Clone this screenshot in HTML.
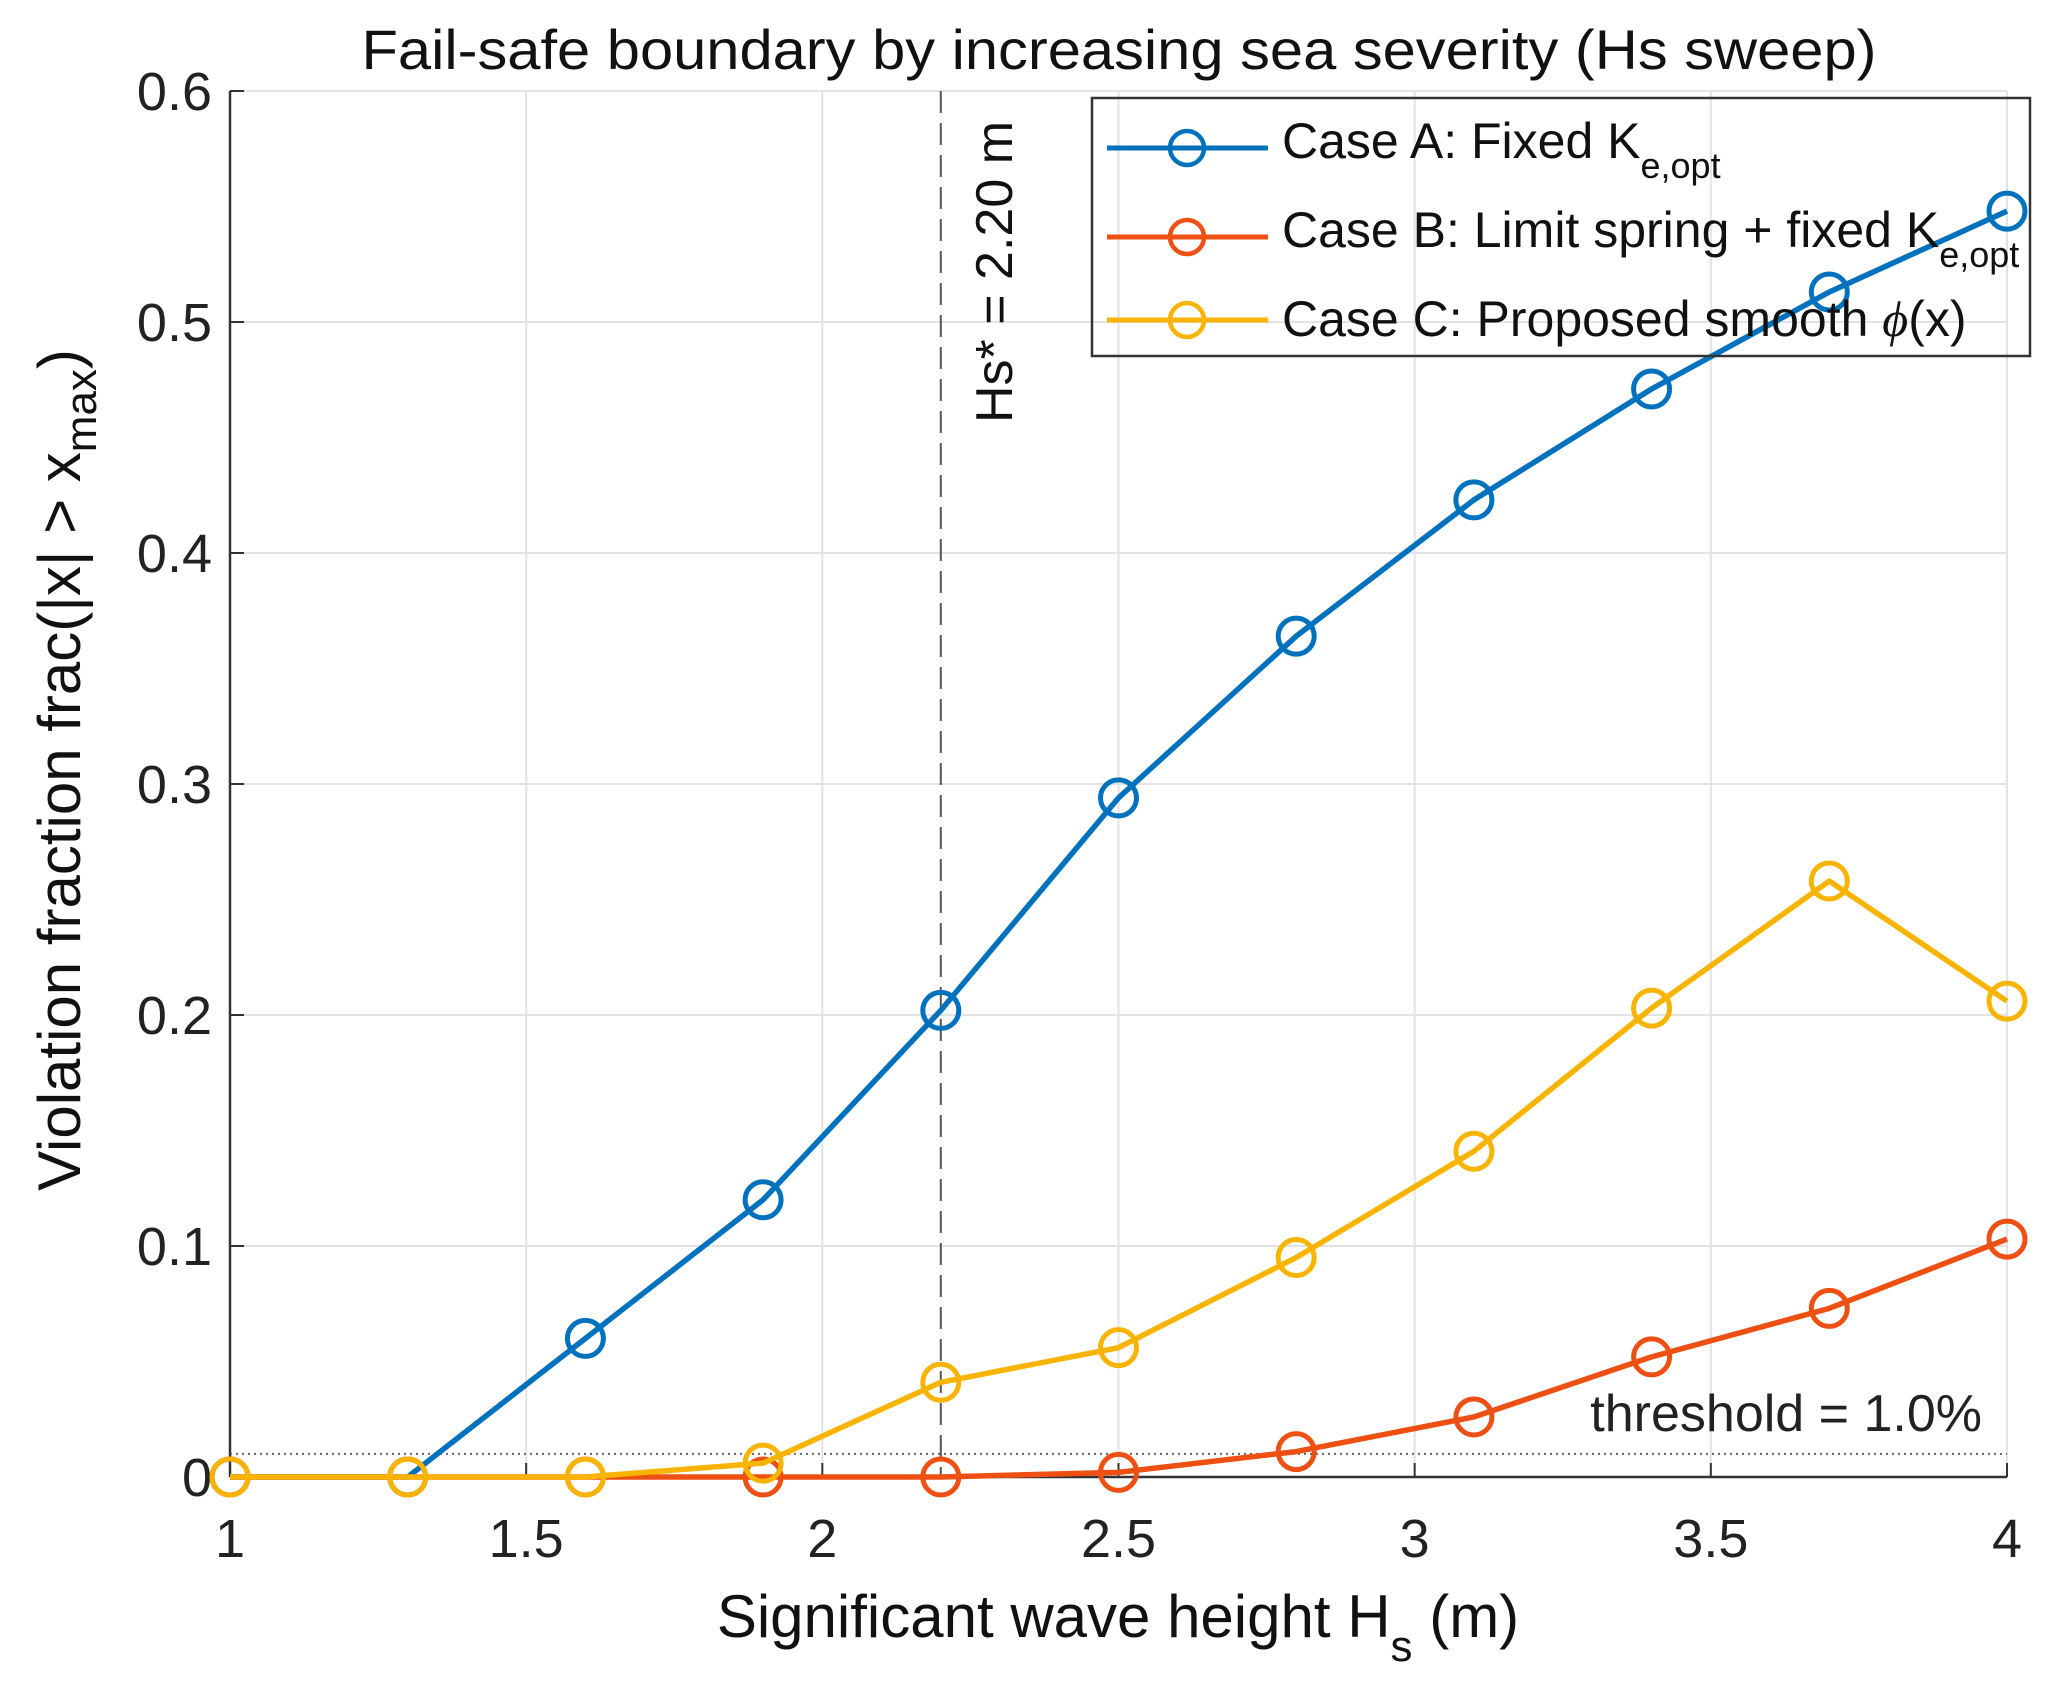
<!DOCTYPE html>
<html><head><meta charset="utf-8"><style>
html,body{margin:0;padding:0;background:#fff}
svg{display:block;font-family:"Liberation Sans",Arial,sans-serif}
</style></head><body>
<svg id="chart" width="2050" height="1691" viewBox="0 0 2050 1691" xmlns="http://www.w3.org/2000/svg">
<g id="grid"></g>
<g id="axes"></g>
<g id="series"></g>
<text x="1119" y="69" font-size="56" text-anchor="middle" fill="#111" textLength="1515" lengthAdjust="spacingAndGlyphs">Fail-safe boundary by increasing sea severity (Hs sweep)</text>
<text transform="translate(80,770) rotate(-90)" font-size="60" text-anchor="middle" fill="#111">Violation fraction  frac(|x| &gt; x<tspan font-size="44" dy="16">max</tspan><tspan dy="-16">)</tspan></text>
<text x="1118" y="1637" font-size="60" text-anchor="middle" fill="#111">Significant wave height H<tspan font-size="44" dy="24">s</tspan><tspan dy="-24"> (m)</tspan></text>
<g>
<rect x="1092" y="98" width="938" height="258" fill="none" stroke="#333" stroke-width="2.5"/>
<g>
<line x1="1107" y1="148" x2="1268" y2="148" stroke="#0072BD" stroke-width="5"/>
<circle cx="1187" cy="148" r="17" fill="none" stroke="#0072BD" stroke-width="4.5"/>
<text x="1282" y="158" font-size="50" fill="#111">Case A: Fixed K<tspan font-size="36" dy="20">e,opt</tspan></text>
</g>
<g>
<line x1="1107" y1="237" x2="1268" y2="237" stroke="#EE4F12" stroke-width="5"/>
<circle cx="1187" cy="237" r="17" fill="none" stroke="#EE4F12" stroke-width="4.5"/>
<text x="1282" y="247" font-size="50" fill="#111">Case B: Limit spring + fixed K<tspan font-size="36" dy="20">e,opt</tspan></text>
</g>
<g>
<line x1="1107" y1="320" x2="1268" y2="320" stroke="#F8B400" stroke-width="5"/>
<circle cx="1187" cy="320" r="17" fill="none" stroke="#F8B400" stroke-width="4.5"/>
<text x="1282" y="336" font-size="50" fill="#111">Case C: Proposed smooth <tspan font-family="Liberation Serif" font-style="italic">ϕ</tspan>(x)</text>
</g>
</g>
</svg>
<script>
const xValues=[1,1.3,1.6,1.9,2.2,2.5,2.8,3.1,3.4,3.7,4.0];
const caseA=[0,0,0.06,0.12,0.202,0.294,0.364,0.423,0.471,0.513,0.548];
const caseB=[0,0,0,0,0,0.002,0.011,0.026,0.052,0.073,0.103];
const caseC=[0,0,0,0.006,0.041,0.056,0.095,0.141,0.203,0.258,0.206];
const xTicks=[1,1.5,2,2.5,3,3.5,4];
const yTicks=[0,0.1,0.2,0.3,0.4,0.5,0.6];
const hsStar=2.2;
const threshold=0.01;

const L=230,R=2007,T=91,B=1477;
const xs=v=>L+(v-1)/3*(R-L);
const ys=v=>B-v/0.6*(B-T);
const NS="http://www.w3.org/2000/svg";
function mk(parent,tag,attrs){const e=document.createElementNS(NS,tag);for(const k in attrs)e.setAttribute(k,attrs[k]);parent.appendChild(e);return e;}
const grid=document.getElementById('grid'),axes=document.getElementById('axes'),ser=document.getElementById('series');
xTicks.forEach(t=>{
  const g=mk(grid,'line',{x1:xs(t),x2:xs(t),y1:T,y2:B,stroke:'#e3e3e3','stroke-width':2});
  
  
  mk(axes,'line',{x1:xs(t),x2:xs(t),y1:B,y2:B-14,stroke:'#333','stroke-width':2});
  const tx=mk(axes,'text',{x:xs(t),y:1557,'font-size':54,'text-anchor':'middle',fill:'#222'});
  tx.textContent=t;
  
  
});
yTicks.forEach(t=>{
  const g=mk(grid,'line',{x1:L,x2:R,y1:ys(t),y2:ys(t),stroke:'#e3e3e3','stroke-width':2});
  
  
  mk(axes,'line',{x1:L,x2:L+14,y1:ys(t),y2:ys(t),stroke:'#333','stroke-width':2});
  const tx=mk(axes,'text',{x:L-18,y:ys(t)+19,'font-size':54,'text-anchor':'end',fill:'#222'});
  tx.textContent=t;
  
  
});
const ya=mk(axes,'line',{x1:L,x2:L,y1:T,y2:B,stroke:'#333','stroke-width':2.5});


const xa=mk(axes,'line',{x1:L,x2:R,y1:B,y2:B,stroke:'#333','stroke-width':2.5});


const vl=mk(axes,'line',{x1:xs(hsStar),x2:xs(hsStar),y1:T,y2:B,stroke:'#555','stroke-width':2,'stroke-dasharray':'22,10'});


const vt=mk(axes,'text',{transform:`translate(${xs(hsStar)+71},272) rotate(-90)`,'font-size':52,'text-anchor':'middle',fill:'#111'});
vt.textContent='Hs* = '+hsStar.toFixed(2)+' m';


const th=mk(axes,'line',{x1:L,x2:R,y1:ys(threshold),y2:ys(threshold),stroke:'#666','stroke-width':2,'stroke-dasharray':'2,4'});


const tt=mk(axes,'text',{x:1982,y:1431,'font-size':52,'text-anchor':'end',fill:'#222'});
tt.textContent='threshold = '+(threshold*100).toFixed(1)+'%';



function drawSeries(vals,color,name){
  const g=mk(ser,'g',{});
  
  
  const pts=vals.map((v,i)=>xs(xValues[i])+','+ys(v)).join(' ');
  mk(g,'polyline',{points:pts,fill:'none',stroke:color,'stroke-width':5.5,'stroke-linejoin':'round'});
  vals.forEach((v,i)=>{
    const c=mk(g,'circle',{cx:xs(xValues[i]),cy:ys(v),r:18,fill:'none',stroke:color,'stroke-width':5});
    
    
  });
}
drawSeries(caseA,'#0072BD','case-a-series');
drawSeries(caseB,'#EE4F12','case-b-series');
drawSeries(caseC,'#F8B400','case-c-series');
</script>
</body></html>
